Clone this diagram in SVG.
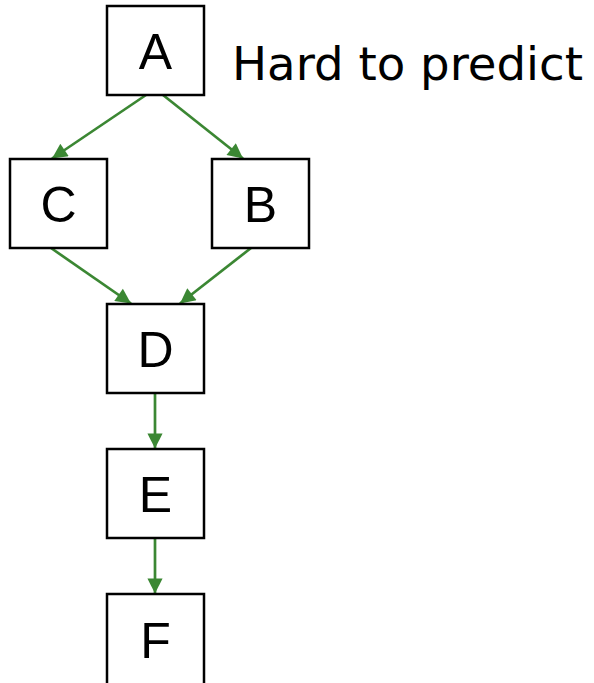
<svg xmlns="http://www.w3.org/2000/svg" width="594" height="683" viewBox="0 0 594 683">
<style>
.box{fill:#fff;stroke:#000;stroke-width:2.5}
.lbl{font-family:"Liberation Sans",Arial,sans-serif;font-size:50px;fill:#000;text-anchor:middle}
.edge{stroke:#3b8733;stroke-width:2.7;fill:none}
.note{font-family:"DejaVu Sans",Tahoma,sans-serif;font-size:47px;fill:#000}
</style>
<defs>
<marker id="arr" viewBox="0 0 10 10" refX="10" refY="5" markerWidth="6.2" markerHeight="5.6" markerUnits="strokeWidth" orient="auto">
<path d="M0,0 L10,5 L0,10 z" fill="#3b8733"/>
</marker>
</defs>
<rect width="594" height="683" fill="#fff"/>
<g id="connectors">
<line class="edge" x1="146" y1="95" x2="52" y2="158.5" marker-end="url(#arr)"/>
<line class="edge" x1="163" y1="95" x2="243" y2="158.5" marker-end="url(#arr)"/>
<line class="edge" x1="51" y1="248" x2="131" y2="303.5" marker-end="url(#arr)"/>
<line class="edge" x1="251" y1="248" x2="180" y2="303.5" marker-end="url(#arr)"/>
<line class="edge" x1="155" y1="393" x2="155" y2="448.5" marker-end="url(#arr)"/>
<line class="edge" x1="155" y1="538" x2="155" y2="593.5" marker-end="url(#arr)"/>
</g>
<g id="node-A"><rect class="box" x="107" y="6" width="97" height="89"/><text class="lbl" x="155.5" y="69">A</text></g>
<g id="node-C"><rect class="box" x="10" y="159" width="97" height="89"/><text class="lbl" x="58.5" y="222">C</text></g>
<g id="node-B"><rect class="box" x="212" y="159" width="97" height="89"/><text class="lbl" x="260.5" y="222">B</text></g>
<g id="node-D"><rect class="box" x="107" y="304" width="97" height="89"/><text class="lbl" x="155.5" y="367">D</text></g>
<g id="node-E"><rect class="box" x="107" y="449" width="97" height="89"/><text class="lbl" x="155.5" y="512">E</text></g>
<g id="node-F"><rect class="box" x="107" y="594" width="97" height="95"/><text class="lbl" x="155.5" y="658">F</text></g>
<g id="note"><text class="note" x="232" y="80" textLength="351" lengthAdjust="spacingAndGlyphs">Hard to predict</text></g>
</svg>
